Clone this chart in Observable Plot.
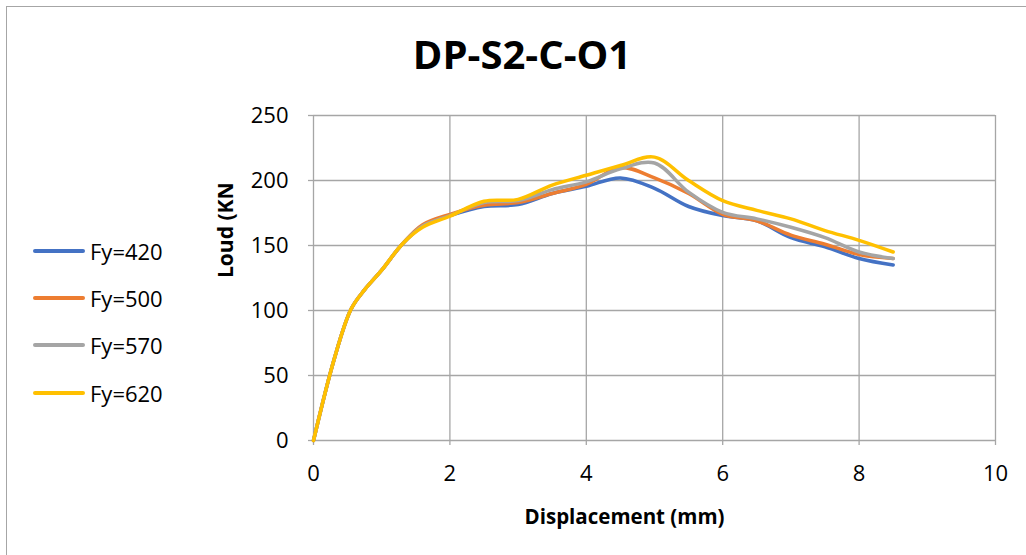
<!DOCTYPE html>
<html>
<head>
<meta charset="utf-8">
<script src="https://cdn.jsdelivr.net/npm/d3@7"></script>
<script src="https://cdn.jsdelivr.net/npm/@observablehq/plot@0.6"></script>
<style>
  html, body { margin: 0; padding: 0; background: #fff; overflow: hidden; }
  #frame { position: relative; width: 1026px; height: 555px; font-family: "Open Sans", sans-serif; color: #000; }
  #border { position: absolute; left: 6px; top: 6px; width: 1100px; height: 600px; border-left: 1px solid #a6a6a6; border-top: 1px solid #a6a6a6; }
  #title { position: absolute; left: 0; width: 1044px; top: 26px; text-align: center; font-size: 40px; font-weight: 700; line-height: 56px; }
  #legend { position: absolute; left: 33px; top: 227px; }
  .item { display: flex; align-items: center; height: 47.3px; }
  .swatch { width: 52px; height: 4px; border-radius: 2px; margin-right: 5px; }
  .item span { font-size: 22px; line-height: 30px; }
  #chart { position: absolute; left: 0; top: 90px; }
</style>
</head>
<body>
<div id="frame">
  <div id="border"></div>
  <div id="title">DP-S2-C-O1</div>
  <div id="legend"></div>
  <div id="chart"></div>
</div>
<script>
// Displacement (mm) sampled for every curve
const displacement = [0, 0.3, 0.55, 0.75, 1.0, 1.3, 1.6, 2.0, 2.5, 3.0, 3.5, 4.0, 4.5, 5.0, 5.5, 6.0, 6.5, 7.0, 7.5, 8.0, 8.5];

// Load (kN) for each yield strength
const fy420 = [0, 62, 101, 116, 131, 151, 165, 173, 180, 181.5, 190, 195.5, 202, 194, 180, 173, 169, 156, 149, 140, 135];
const fy500 = [0, 62, 101, 116, 131, 151, 166, 174, 181, 183, 190, 197, 210, 202, 190, 174, 169, 158, 151, 143, 140];
const fy570 = [0, 62, 101, 116, 131, 151, 165, 173, 183, 184.5, 193, 199, 209, 213.5, 191, 175.5, 170.5, 164, 156, 145, 140];
const fy620 = [0, 62, 101, 116, 131, 151, 164, 172.5, 184, 185.5, 196.5, 204, 211.5, 218, 200, 184.5, 177, 170.5, 161.5, 154, 145];

const seriesNames = ["Fy=420", "Fy=500", "Fy=570", "Fy=620"];
const seriesValues = [fy420, fy500, fy570, fy620];
const seriesColors = ["#4472C4", "#ED7D31", "#A5A5A5", "#FFC000"];

const xTicks = [0, 2, 4, 6, 8, 10];
const yTicks = [0, 50, 100, 150, 200, 250];

const rows = seriesNames.flatMap((name, i) =>
  displacement.map((d, j) => ({series: name, disp: d, load: seriesValues[i][j]}))
);

const gridColor = "#a6a6a6";

const chart = Plot.plot({
  width: 1026,
  height: 460,
  marginLeft: 313,
  marginRight: 31,
  marginTop: 25,
  marginBottom: 110,
  style: {fontFamily: "Open Sans, sans-serif", fontSize: "22px", color: "#000", background: "transparent"},
  x: {domain: [0, 10], ticks: xTicks},
  y: {domain: [0, 250], ticks: yTicks},
  color: {domain: seriesNames, range: seriesColors},
  marks: [
    Plot.gridX(xTicks, {stroke: gridColor, strokeOpacity: 1, strokeWidth: 1.3}),
    Plot.gridY(yTicks, {stroke: gridColor, strokeOpacity: 1, strokeWidth: 1.3}),
    Plot.axisX(xTicks, {tickSize: 5, tickPadding: 20, stroke: gridColor, strokeWidth: 1.3, label: null, fontSize: 22}),
    Plot.axisY(yTicks, {tickSize: 5, tickPadding: 20, stroke: gridColor, strokeWidth: 1.3, label: null, fontSize: 22}),
    Plot.line(rows, {x: "disp", y: "load", z: "series", stroke: "series", strokeWidth: 3.5, curve: "catmull-rom"}),
    Plot.text(["Displacement (mm)"], {frameAnchor: "bottom", dx: -30, dy: 77, fontWeight: 700, fontSize: 20.5, lineAnchor: "middle"}),
    Plot.text(["Loud (KN"], {frameAnchor: "left", dx: -87, rotate: -90, fontWeight: 700, fontSize: 21, lineAnchor: "middle"})
  ]
});
document.getElementById("chart").appendChild(chart);

// Legend built from the same series list
const legend = document.getElementById("legend");
seriesNames.forEach((name, i) => {
  const item = document.createElement("div");
  item.className = "item";
  const sw = document.createElement("div");
  sw.className = "swatch";
  sw.style.background = seriesColors[i];
  const label = document.createElement("span");
  label.textContent = name;
  item.appendChild(sw);
  item.appendChild(label);
  legend.appendChild(item);
});
</script>
</body>
</html>
